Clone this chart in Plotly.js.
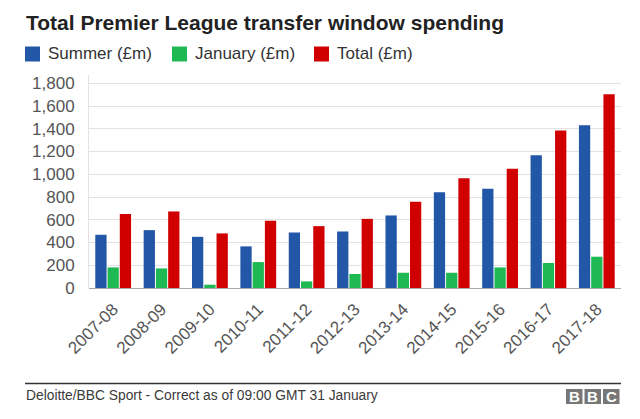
<!DOCTYPE html>
<html>
<head>
<meta charset="utf-8">
<script src="https://cdn.plot.ly/plotly-3.0.1.min.js"></script>
<style>
  html, body { margin: 0; padding: 0; background: #fff; }
  #chart { width: 640px; height: 419px; }
</style>
</head>
<body>
<div id="chart"></div>
<script>
// ---- data ----
const seasons = ["2007-08","2008-09","2009-10","2010-11","2011-12","2012-13","2013-14","2014-15","2015-16","2016-17","2017-18"];
const summer  = [468, 509, 450, 366, 488, 497, 638, 843, 872, 1168, 1431];
const january = [181, 172, 29, 228, 58, 123, 134, 134, 181, 220, 275];
const total   = [650, 673, 480, 591, 544, 608, 758, 966, 1048, 1384, 1703];
const seriesNames = ["Summer (£m)", "January (£m)", "Total (£m)"];
const yTicks = [0, 200, 400, 600, 800, 1000, 1200, 1400, 1600, 1800];
const yTickText = ["0","200","400","600","800","1,000","1,200","1,400","1,600","1,800"];
const titleText = "Total Premier League transfer window spending";
const sourceText = "Deloitte/BBC Sport - Correct as of 09:00 GMT 31 January";
const logoLetters = ["B", "B", "C"];

// ---- styles ----
const colors = ["#2256a6", "#1fb953", "#d10000"];
const FONT = "Liberation Sans, Arial, Helvetica, sans-serif";
const W = 640, H = 419;
const M = {l: 89, r: 19, t: 75, b: 131};
const PW = W - M.l - M.r, PH = H - M.t - M.b;
const px = x => (x - M.l) / PW;          // pixel -> paper x
const py = y => (H - M.b - y) / PH;      // pixel -> paper y

const traces = [summer, january, total].map((vals, i) => ({
  type: "bar",
  name: seriesNames[i],
  x: seasons,
  y: vals,
  marker: {color: colors[i], line: {width: 0}},
  hoverinfo: "x+y+name"
}));

const shapes = [];
const annotations = [];

// custom legend
const legendX = [25, 172, 314];
seriesNames.forEach((name, i) => {
  shapes.push({type: "rect", xref: "paper", yref: "paper",
    x0: px(legendX[i]), x1: px(legendX[i] + 15), y0: py(61.5), y1: py(46.5),
    fillcolor: colors[i], line: {width: 0}});
  annotations.push({xref: "paper", yref: "paper", x: px(legendX[i] + 21), y: py(54),
    xanchor: "left", yanchor: "middle", showarrow: false, text: name,
    font: {family: FONT, size: 17, color: "#333333"}});
});

// footer rule
shapes.push({type: "line", xref: "paper", yref: "paper",
  x0: px(25), x1: px(621), y0: py(383.5), y1: py(383.5),
  line: {color: "#333333", width: 1.4}});

// source text
annotations.push({xref: "paper", yref: "paper", x: px(24), y: py(395.5),
  xanchor: "left", yanchor: "middle", showarrow: false, text: sourceText,
  font: {family: FONT, size: 13.8, color: "#3a3a3a"}});

// BBC logo
logoLetters.forEach((ch, i) => {
  const x0 = 566 + i * 18.5;
  shapes.push({type: "rect", xref: "paper", yref: "paper",
    x0: px(x0), x1: px(x0 + 16.5), y0: py(404), y1: py(389),
    fillcolor: "#777777", line: {width: 0}});
  annotations.push({xref: "paper", yref: "paper", x: px(x0 + 8.25), y: py(396.8),
    xanchor: "center", yanchor: "middle", showarrow: false, text: ch,
    font: {family: FONT, size: 15, color: "#ffffff", weight: "bold"}});
});

const layout = {
  width: W, height: H,
  margin: M,
  paper_bgcolor: "#ffffff",
  plot_bgcolor: "#ffffff",
  font: {family: FONT, color: "#555555"},
  title: {
    text: "<b>" + titleText + "</b>",
    xref: "container", yref: "container",
    x: 26 / W, xanchor: "left",
    y: 1 - 22.5 / H, yanchor: "middle",
    font: {family: FONT, size: 21, color: "#222222"}
  },
  showlegend: false,
  barmode: "group",
  bargap: 0.24,
  bargroupgap: 0.08,
  xaxis: {
    type: "category",
    tickangle: -45,
    tickfont: {family: FONT, size: 17, color: "#555555"},
    showgrid: false,
    showline: false,
    zeroline: false,
    ticks: "",
    ticklabelstandoff: 7,
    fixedrange: true
  },
  yaxis: {
    range: [0, 1873],
    tickvals: yTicks,
    ticktext: yTickText,
    tickfont: {family: FONT, size: 17, color: "#555555"},
    showgrid: true,
    gridcolor: "#e2e2e2",
    gridwidth: 1,
    zeroline: true,
    zerolinecolor: "#a8a8a8",
    zerolinewidth: 1,
    showline: true,
    linecolor: "#e2e2e2",
    linewidth: 1,
    ticks: "",
    ticklabelstandoff: 10,
    fixedrange: true
  },
  shapes: shapes,
  annotations: annotations
};

Plotly.newPlot("chart", traces, layout, {displayModeBar: false, staticPlot: true});
</script>
</body>
</html>
